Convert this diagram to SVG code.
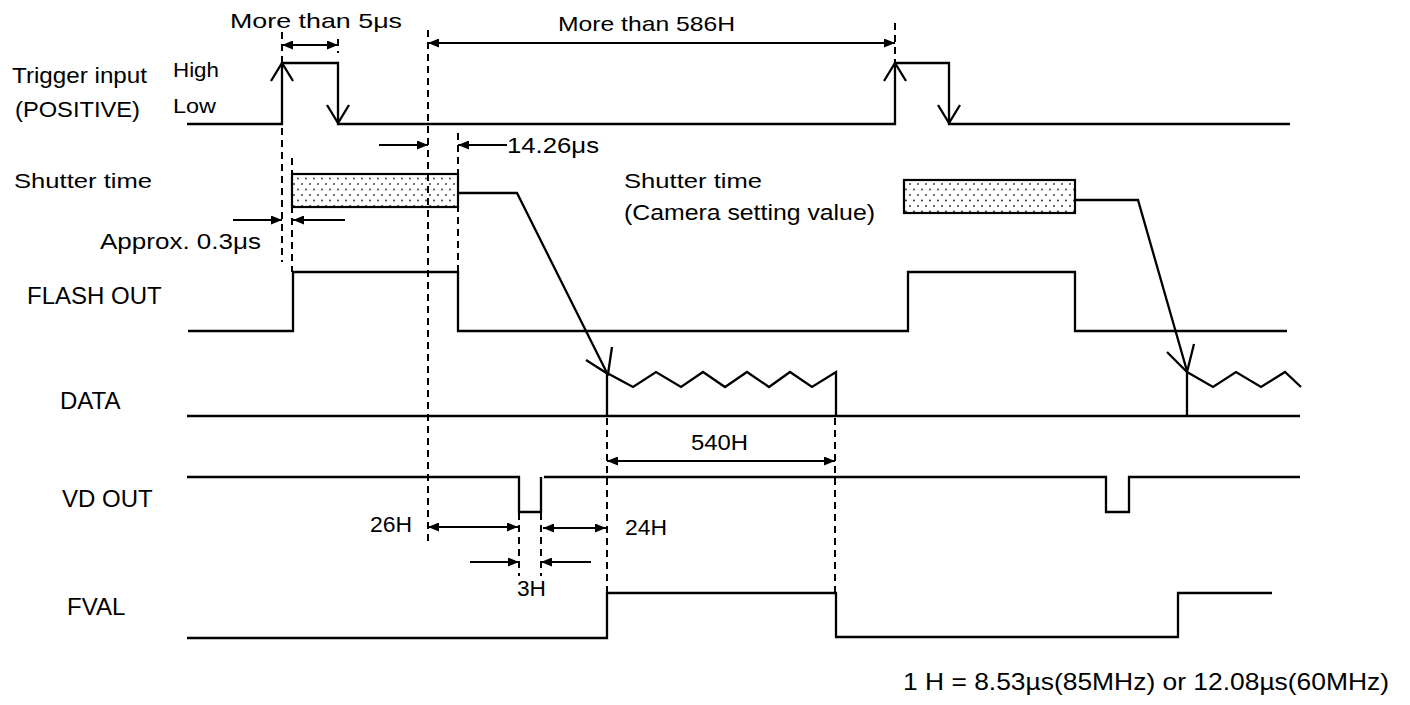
<svg xmlns="http://www.w3.org/2000/svg" width="1410" height="705" viewBox="0 0 1410 705">
<style>
.sig{fill:none;stroke:#000;stroke-width:2.3;stroke-linejoin:miter}
.dash{fill:none;stroke:#000;stroke-width:2;stroke-dasharray:7 5}
.dimd{fill:none;stroke:#000;stroke-width:2.2;marker-end:url(#ah)}
.dimb{fill:none;stroke:#000;stroke-width:2.2;marker-start:url(#ah);marker-end:url(#ah)}
.g{font-family:"Liberation Sans","Noto Sans CJK JP",sans-serif;font-size:21px;fill:#000}
.gl{font-family:"Liberation Sans","Noto Sans CJK JP",sans-serif;font-size:22px;fill:#000}
.a{font-family:"Liberation Sans",Arial,sans-serif;font-size:24px;fill:#000}
.h{font-family:"Liberation Sans",Arial,sans-serif;font-size:22px;fill:#000}
.box{fill:url(#dots);stroke:#000;stroke-width:2.2}
</style>
<defs>
<marker id="ah" viewBox="0 0 11 9" refX="11" refY="4.5" markerWidth="11" markerHeight="9" markerUnits="userSpaceOnUse" orient="auto-start-reverse">
<path d="M0,0 L11,4.5 L0,9 z" fill="#000"/>
</marker>
<pattern id="dots" width="8" height="11" patternUnits="userSpaceOnUse">
<rect width="8" height="11" fill="#fff"/>
<circle cx="2" cy="2.5" r="0.95" fill="#333"/>
<circle cx="6" cy="8" r="0.95" fill="#333"/>
</pattern>
</defs>
<rect width="1410" height="705" fill="#fff"/>

<g id="trigger">
<text class="gl" x="12" y="83" textLength="135" lengthAdjust="spacingAndGlyphs">Trigger input</text>
<text class="gl" x="15" y="117" textLength="125" lengthAdjust="spacingAndGlyphs">(POSITIVE)</text>
<text class="g" x="173" y="77" textLength="46" lengthAdjust="spacingAndGlyphs">High</text>
<text class="g" x="173" y="113" textLength="43" lengthAdjust="spacingAndGlyphs">Low</text>
<path class="sig" d="M187,124 H282 V63 H338 V124 H895 V63 H949 V124 H1290"/>
<path class="sig" d="M271,81 L282,63 L293,81 M327,105 L338,123 L349,105 M884,81 L895,63 L906,81 M938,105 L949,123 L960,105"/>
</g>

<g id="shutter1">
<text class="g" x="14" y="188" textLength="138" lengthAdjust="spacingAndGlyphs">Shutter time</text>
<rect class="box" x="292" y="174" width="166" height="33"/>
</g>

<g id="shutter2">
<text class="g" x="624" y="188" textLength="138" lengthAdjust="spacingAndGlyphs">Shutter time</text>
<text class="gl" x="624" y="220" textLength="251" lengthAdjust="spacingAndGlyphs">(Camera setting value)</text>
<rect class="box" x="904" y="180" width="171" height="33"/>
</g>

<g id="flash">
<text class="a" x="27" y="304">FLASH OUT</text>
<path class="sig" d="M188,331 H293 V272 H458 V331 H908 V272 H1075 V331 H1287"/>
</g>

<g id="data">
<text class="a" x="60" y="409">DATA</text>
<path class="sig" d="M187,416 H1300"/>
<path class="sig" d="M607,416 V373 L633,387 L656,372 L681,387 L703,372 L725,387 L747,372 L769,387 L790,372 L812,387 L836,372 V416"/>
<path class="sig" d="M1187,416 V372 L1213,387 L1236,372 L1261,387 L1285,372 L1301,387"/>
</g>

<g id="vdout">
<text class="a" x="62" y="507">VD OUT</text>
<path class="sig" d="M187,477 H519 V512 H541 V477"/>
<path class="sig" d="M544,477 H1106 V512 H1129 V477 H1300"/>
</g>

<g id="fval">
<text class="a" x="67" y="615">FVAL</text>
<path class="sig" d="M187,638 H607 V593 H836 V637 H1178 V593 H1272"/>
</g>

<g id="connectors">
<path class="sig" d="M458,193 H517 L607,373"/>
<path class="sig" d="M586,360 L608,374 L612,347"/>
<path class="sig" d="M1075,200 H1138 L1187,371"/>
<path class="sig" d="M1167,352 L1187,372 L1194,344"/>
</g>

<g id="guides">
<line class="dash" x1="282" y1="32" x2="282" y2="262"/>
<line class="dash" x1="292" y1="158" x2="292" y2="272"/>
<line class="dash" x1="338" y1="39" x2="338" y2="53"/>
<line class="dash" x1="428" y1="30" x2="428" y2="541"/>
<line class="dash" x1="458" y1="133" x2="458" y2="272"/>
<line class="dash" x1="895" y1="23" x2="895" y2="62"/>
<line class="dash" x1="519" y1="513" x2="519" y2="576"/>
<line class="dash" x1="541" y1="513" x2="541" y2="576"/>
<line class="dash" x1="607" y1="418" x2="607" y2="592"/>
<line class="dash" x1="835" y1="418" x2="835" y2="592"/>
</g>

<g id="dimensions">
<line class="dimb" x1="282" y1="45" x2="338" y2="45"/>
<text class="g" x="230" y="28" textLength="172" lengthAdjust="spacingAndGlyphs">More than 5μs</text>
<line class="dimb" x1="428" y1="43" x2="895" y2="43"/>
<text class="g" x="558" y="31" textLength="177" lengthAdjust="spacingAndGlyphs">More than 586H</text>
<line class="dimd" x1="379" y1="145" x2="428" y2="145"/>
<line class="dimd" x1="507" y1="145" x2="458" y2="145"/>
<text class="gl" x="507" y="153" textLength="92" lengthAdjust="spacingAndGlyphs">14.26μs</text>
<line class="dimd" x1="233" y1="220" x2="282" y2="220"/>
<line class="dimd" x1="345" y1="220" x2="293" y2="220"/>
<text class="gl" x="100" y="249" textLength="161" lengthAdjust="spacingAndGlyphs">Approx. 0.3μs</text>
<line class="dimb" x1="607" y1="461" x2="835" y2="461"/>
<text class="h" x="691" y="450" textLength="57" lengthAdjust="spacingAndGlyphs">540H</text>
<line class="dimb" x1="428" y1="527" x2="518" y2="527"/>
<text class="h" x="370" y="532" textLength="42" lengthAdjust="spacingAndGlyphs">26H</text>
<line class="dimb" x1="543" y1="528" x2="606" y2="528"/>
<text class="h" x="625" y="535" textLength="42" lengthAdjust="spacingAndGlyphs">24H</text>
<line class="dimd" x1="470" y1="562" x2="519" y2="562"/>
<line class="dimd" x1="591" y1="562" x2="541" y2="562"/>
<text class="h" x="517" y="596" textLength="29" lengthAdjust="spacingAndGlyphs">3H</text>
</g>

<text class="a" x="903" y="690" textLength="486" lengthAdjust="spacingAndGlyphs">1 H = 8.53µs(85MHz) or 12.08µs(60MHz)</text>
</svg>
